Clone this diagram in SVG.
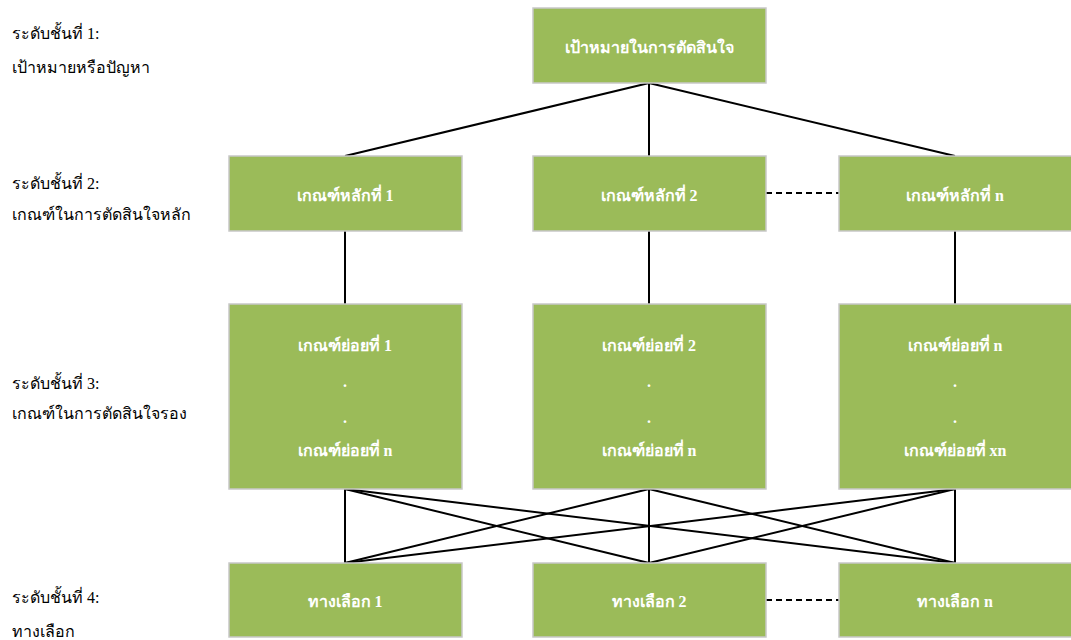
<svg xmlns="http://www.w3.org/2000/svg" width="1071" height="640" viewBox="0 0 1071 640">
<style>
.box{fill:#9BBB59;stroke:#C8C8C8;stroke-width:1.5}
.bt{font-family:"Liberation Serif","DejaVu Serif",serif;font-size:16px;font-weight:bold;fill:#FFFFFF;text-anchor:middle}
.lbl{font-family:"Liberation Serif","DejaVu Serif",serif;font-size:16px;fill:#000000}
.ln{stroke:#000000;stroke-width:2;fill:none}
.dash{stroke:#000000;stroke-width:2;fill:none;stroke-dasharray:6,4}
</style>
<rect width="1071" height="640" fill="#FFFFFF"/>
<g id="labels">
<text class="lbl" x="12" y="39">ระดับชั้นที่ 1:</text>
<text class="lbl" x="12" y="73">เป้าหมายหรือปัญหา</text>
<text class="lbl" x="12" y="189">ระดับชั้นที่ 2:</text>
<text class="lbl" x="12" y="220">เกณฑ์ในการตัดสินใจหลัก</text>
<text class="lbl" x="12" y="389">ระดับชั้นที่ 3:</text>
<text class="lbl" x="12" y="419">เกณฑ์ในการตัดสินใจรอง</text>
<text class="lbl" x="12" y="603">ระดับชั้นที่ 4:</text>
<text class="lbl" x="12" y="637">ทางเลือก</text>
</g>
<g id="connectors">
<line class="ln" x1="649" y1="83" x2="345" y2="156"/>
<line class="ln" x1="649" y1="83" x2="649" y2="156"/>
<line class="ln" x1="649" y1="83" x2="955" y2="156"/>
<line class="dash" x1="766" y1="193" x2="839" y2="193"/>
<line class="ln" x1="345" y1="231" x2="345" y2="304"/>
<line class="ln" x1="649" y1="231" x2="649" y2="304"/>
<line class="ln" x1="955" y1="231" x2="955" y2="304"/>
<line class="ln" x1="345" y1="489" x2="345" y2="563"/>
<line class="ln" x1="345" y1="489" x2="649" y2="563"/>
<line class="ln" x1="345" y1="489" x2="955" y2="563"/>
<line class="ln" x1="649" y1="489" x2="345" y2="563"/>
<line class="ln" x1="649" y1="489" x2="649" y2="563"/>
<line class="ln" x1="649" y1="489" x2="955" y2="563"/>
<line class="ln" x1="955" y1="489" x2="345" y2="563"/>
<line class="ln" x1="955" y1="489" x2="649" y2="563"/>
<line class="ln" x1="955" y1="489" x2="955" y2="563"/>
<line class="dash" x1="766" y1="600" x2="839" y2="600"/>
</g>
<g id="goal">
<rect class="box" x="533" y="8" width="233" height="75"/>
<text class="bt" x="649" y="53">เป้าหมายในการตัดสินใจ</text>
</g>
<g id="main1">
<rect class="box" x="229" y="156" width="233" height="75"/>
<text class="bt" x="345" y="201">เกณฑ์หลักที่ 1</text>
</g>
<g id="main2">
<rect class="box" x="533" y="156" width="233" height="75"/>
<text class="bt" x="649" y="201">เกณฑ์หลักที่ 2</text>
</g>
<g id="main3">
<rect class="box" x="839" y="156" width="233" height="75"/>
<text class="bt" x="955" y="201">เกณฑ์หลักที่ n</text>
</g>
<g id="sub1">
<rect class="box" x="229" y="304" width="233" height="185"/>
<text class="bt" x="345" y="351">เกณฑ์ย่อยที่ 1</text>
<text class="bt" x="345" y="387">.</text>
<text class="bt" x="345" y="423">.</text>
<text class="bt" x="345" y="456">เกณฑ์ย่อยที่ n</text>
</g>
<g id="sub2">
<rect class="box" x="533" y="304" width="233" height="185"/>
<text class="bt" x="649" y="351">เกณฑ์ย่อยที่ 2</text>
<text class="bt" x="649" y="387">.</text>
<text class="bt" x="649" y="423">.</text>
<text class="bt" x="649" y="456">เกณฑ์ย่อยที่ n</text>
</g>
<g id="sub3">
<rect class="box" x="839" y="304" width="233" height="185"/>
<text class="bt" x="955" y="351">เกณฑ์ย่อยที่ n</text>
<text class="bt" x="955" y="387">.</text>
<text class="bt" x="955" y="423">.</text>
<text class="bt" x="955" y="456">เกณฑ์ย่อยที่ xn</text>
</g>
<g id="alt1">
<rect class="box" x="229" y="563" width="233" height="74"/>
<text class="bt" x="345" y="607">ทางเลือก 1</text>
</g>
<g id="alt2">
<rect class="box" x="533" y="563" width="233" height="74"/>
<text class="bt" x="649" y="607">ทางเลือก 2</text>
</g>
<g id="alt3">
<rect class="box" x="839" y="563" width="233" height="74"/>
<text class="bt" x="955" y="607">ทางเลือก n</text>
</g>
</svg>
